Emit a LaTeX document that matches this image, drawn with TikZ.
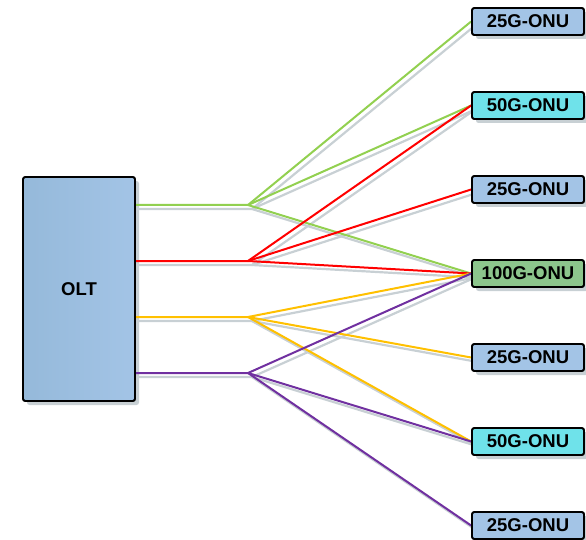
\documentclass[tikz,border=0pt]{standalone}
\usepackage{fontspec}
\setmainfont{Liberation Sans}
\usetikzlibrary{shadows}
\definecolor{cgreen}{HTML}{92D050}
\definecolor{cred}{HTML}{FF0000}
\definecolor{cyellow}{HTML}{FFC000}
\definecolor{cpurple}{HTML}{7030A0}
\definecolor{cshadow}{HTML}{C8D0D4}
\definecolor{cblue}{HTML}{A3C4E6}
\definecolor{cblueD}{HTML}{95B9DA}
\definecolor{ccyan}{HTML}{6FE2EA}
\definecolor{cgreenbox}{HTML}{8CC68C}
\tikzset{
  box/.style={draw=black, line width=1.8pt, rounded corners=2.5pt, inner sep=0pt,
    font=\fontsize{18.5}{20}\selectfont\bfseries},
  shadowed/.style={drop shadow={shadow xshift=4pt, shadow yshift=-4pt, fill=cshadow, opacity=1}},
  oltbox/.style={box, minimum width=112pt, minimum height=224pt, left color=cblueD, right color=cblue},
  onu/.style={box, minimum width=112pt, minimum height=27pt},
  b25/.style={onu, fill=cblue},
  b50/.style={onu, fill=ccyan},
  b100/.style={onu, fill=cgreenbox},
  fib/.style={line width=2pt, line join=round},
  shd/.style={line width=2.2pt, draw=cshadow, line join=round},
}
\begin{document}
\begin{tikzpicture}[x=1pt,y=1pt]
\useasboundingbox (0,0) rectangle (586,-540);
% nodes with their shadows
\path (79,-289) node[oltbox, shadowed] (olt) {OLT};
\path (528,-21.5) node[b25, shadowed] (o1) {25G-ONU};
\path (528,-105.5) node[b50, shadowed] (o2) {50G-ONU};
\path (528,-189.5) node[b25, shadowed] (o3) {25G-ONU};
\path (528,-273.5) node[b100, shadowed] (o4) {100G-ONU};
\path (528,-357.5) node[b25, shadowed] (o5) {25G-ONU};
\path (528,-441.5) node[b50, shadowed] (o6) {50G-ONU};
\path (528,-525.5) node[b25, shadowed] (o7) {25G-ONU};
\coordinate (p1) at (135,-205);
\coordinate (p2) at (135,-261);
\coordinate (p3) at (135,-317);
\coordinate (p4) at (135,-373);
\coordinate (s1) at (248,-205);
\coordinate (s2) at (248,-261);
\coordinate (s3) at (248,-317);
\coordinate (s4) at (248,-373);
% shadows of fibres
\foreach \pp/\ss/\aa/\bb/\cc in {p1/s1/o1/o2/o4, p2/s2/o2/o3/o4, p3/s3/o4/o5/o6, p4/s4/o4/o6/o7}{
  \draw[shd] ([xshift=4pt,yshift=-4pt]\pp) -- ([xshift=4pt,yshift=-4pt]\ss) -- ([xshift=4pt,yshift=-4pt]\aa.west);
  \draw[shd] ([xshift=4pt,yshift=-4pt]\ss) -- ([xshift=4pt,yshift=-4pt]\bb.west);
  \draw[shd] ([xshift=4pt,yshift=-4pt]\ss) -- ([xshift=4pt,yshift=-4pt]\cc.west);
}
% fibres
\draw[fib, cgreen] (p1) -- (s1) -- (o1.west);
\draw[fib, cgreen] (s1) -- (o2.west);
\draw[fib, cgreen] (s1) -- (o4.west);
\draw[fib, cred] (p2) -- (s2) -- (o2.west);
\draw[fib, cred] (s2) -- (o3.west);
\draw[fib, cred] (s2) -- (o4.west);
\draw[fib, cyellow] (p3) -- (s3) -- (o4.west);
\draw[fib, cyellow] (s3) -- (o5.west);
\draw[fib, cyellow] (s3) -- (o6.west);
\draw[fib, cpurple] (p4) -- (s4) -- (o4.west);
\draw[fib, cpurple] (s4) -- (o6.west);
\draw[fib, cpurple] (s4) -- (o7.west);
% boxes drawn again (without shadow) on top of the fibres
\path (79,-289) node[oltbox] {OLT};
\path (528,-21.5) node[b25] {25G-ONU};
\path (528,-105.5) node[b50] {50G-ONU};
\path (528,-189.5) node[b25] {25G-ONU};
\path (528,-273.5) node[b100] {100G-ONU};
\path (528,-357.5) node[b25] {25G-ONU};
\path (528,-441.5) node[b50] {50G-ONU};
\path (528,-525.5) node[b25] {25G-ONU};
\end{tikzpicture}
\end{document}
